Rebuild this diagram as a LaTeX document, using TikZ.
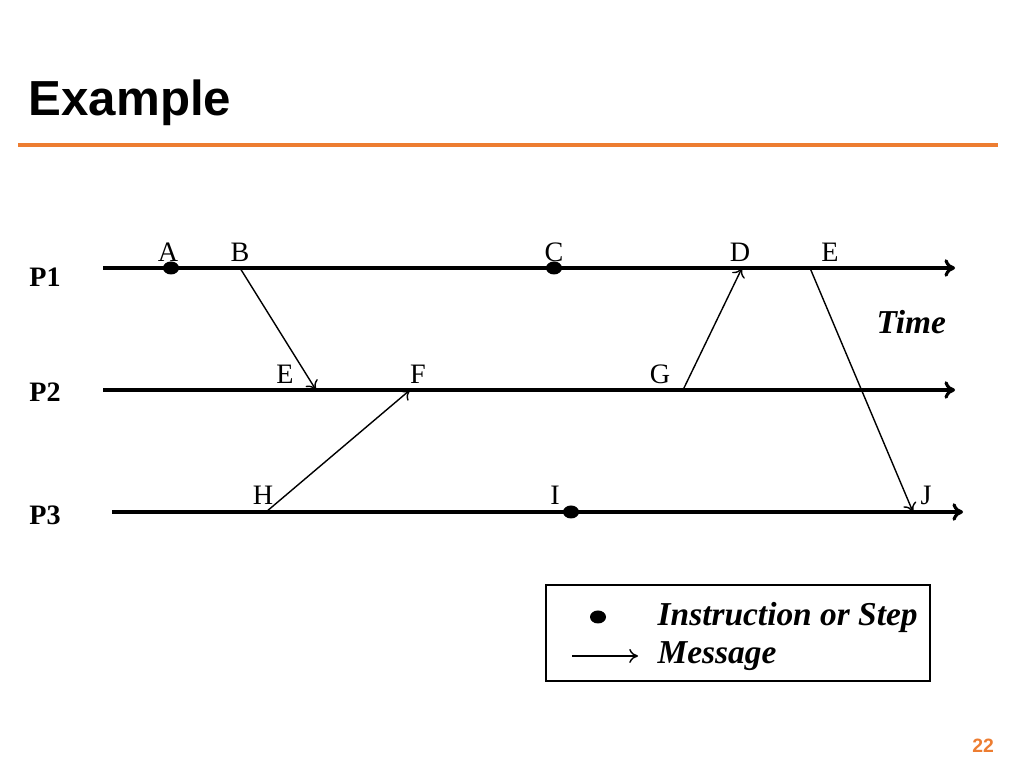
\documentclass[tikz,border=0pt]{standalone}
\usepackage{fontspec}
\setmainfont{Liberation Serif}
\setsansfont{Liberation Sans}
\usetikzlibrary{arrows.meta,positioning,shapes.geometric}
\definecolor{slideorange}{RGB}{237,125,49}
\tikzset{
  proc/.style={line width=0.9pt,-{To[length=3pt,width=5pt]}},
  msg/.style={line width=0.4pt,-{To[length=2.5pt,width=4pt]}},
  stepdot/.style={fill,ellipse,inner sep=0pt,minimum width=0.16cm,minimum height=0.13cm},
  lbl/.style={font=\fontsize{8}{9}\selectfont,inner sep=0pt},
  plbl/.style={font=\fontsize{8}{9}\selectfont\bfseries,inner sep=0pt},
  itl/.style={font=\fontsize{9.5}{11}\selectfont\bfseries\itshape,inner sep=0pt,anchor=west}
}
\begin{document}
\begin{tikzpicture}[x=0.01cm,y=-0.01cm]
\useasboundingbox (0,0) rectangle (1024,768);
% title
\node[font=\fontsize{14}{16}\selectfont\sffamily\bfseries,anchor=west,inner sep=0pt] (title) at (28,103) {Example};
\draw[slideorange,line width=1pt] (18,145) -- (998,145);
% process lines
\coordinate (p1s) at (103,268); \coordinate (p1e) at (955,268);
\coordinate (p2s) at (103,390); \coordinate (p2e) at (955,390);
\coordinate (p3s) at (112,512); \coordinate (p3e) at (963,512);
\draw[proc] (p1s) -- (p1e);
\draw[proc] (p2s) -- (p2e);
\draw[proc] (p3s) -- (p3e);
\node[plbl] (P1) at (45,277) {P1};
\node[plbl] (P2) at (45,392) {P2};
\node[plbl] (P3) at (45,515) {P3};
% steps
\node[stepdot] (dA) at (171,268) {};
\node[stepdot] (dC) at (554,268) {};
\node[stepdot] (dI) at (571,512) {};
% event labels
\node[lbl] (A) at (168,252) {A};
\node[lbl] (B) at (240,252) {B};
\node[lbl] (C) at (554,252) {C};
\node[lbl] (D) at (740,252) {D};
\node[lbl] (E1) at (830,252) {E};
\node[lbl] (E2) at (285,374) {E};
\node[lbl] (F) at (418,374) {F};
\node[lbl] (G) at (660,374) {G};
\node[lbl] (H) at (263,495) {H};
\node[lbl] (I) at (555,495) {I};
\node[lbl] (J) at (926,495) {J};
% messages
\coordinate (mB) at (240,268); \coordinate (mE2) at (316,390);
\coordinate (mH) at (266,512); \coordinate (mF) at (410,390);
\coordinate (mG) at (683,390); \coordinate (mD) at (742,268);
\coordinate (mE1) at (810,268); \coordinate (mJ) at (913,512);
\draw[msg] (mB) -- (mE2);
\draw[msg] (mH) -- (mF);
\draw[msg] (mG) -- (mD);
\draw[msg] (mE1) -- (mJ);
\node[itl] (time) at (876,322) {Time};
% legend
\node[draw,line width=0.4pt,minimum width=3.84cm,minimum height=0.96cm,inner sep=0pt] (legend) at (738,633) {};
\node[stepdot] (ldot) at (598,617) {};
\coordinate (la) at (572,656); \coordinate (lb) at (638,656);
\draw[msg] (la) -- (lb);
\node[itl] (lstep) at (657,617) {Instruction or Step};
\node[itl] (lmsg) at (657,656) {Message};
% page number
\node[font=\fontsize{5.5}{6}\selectfont\sffamily\bfseries,text=slideorange,inner sep=0pt] (page) at (983,746) {22};
\end{tikzpicture}
\end{document}
